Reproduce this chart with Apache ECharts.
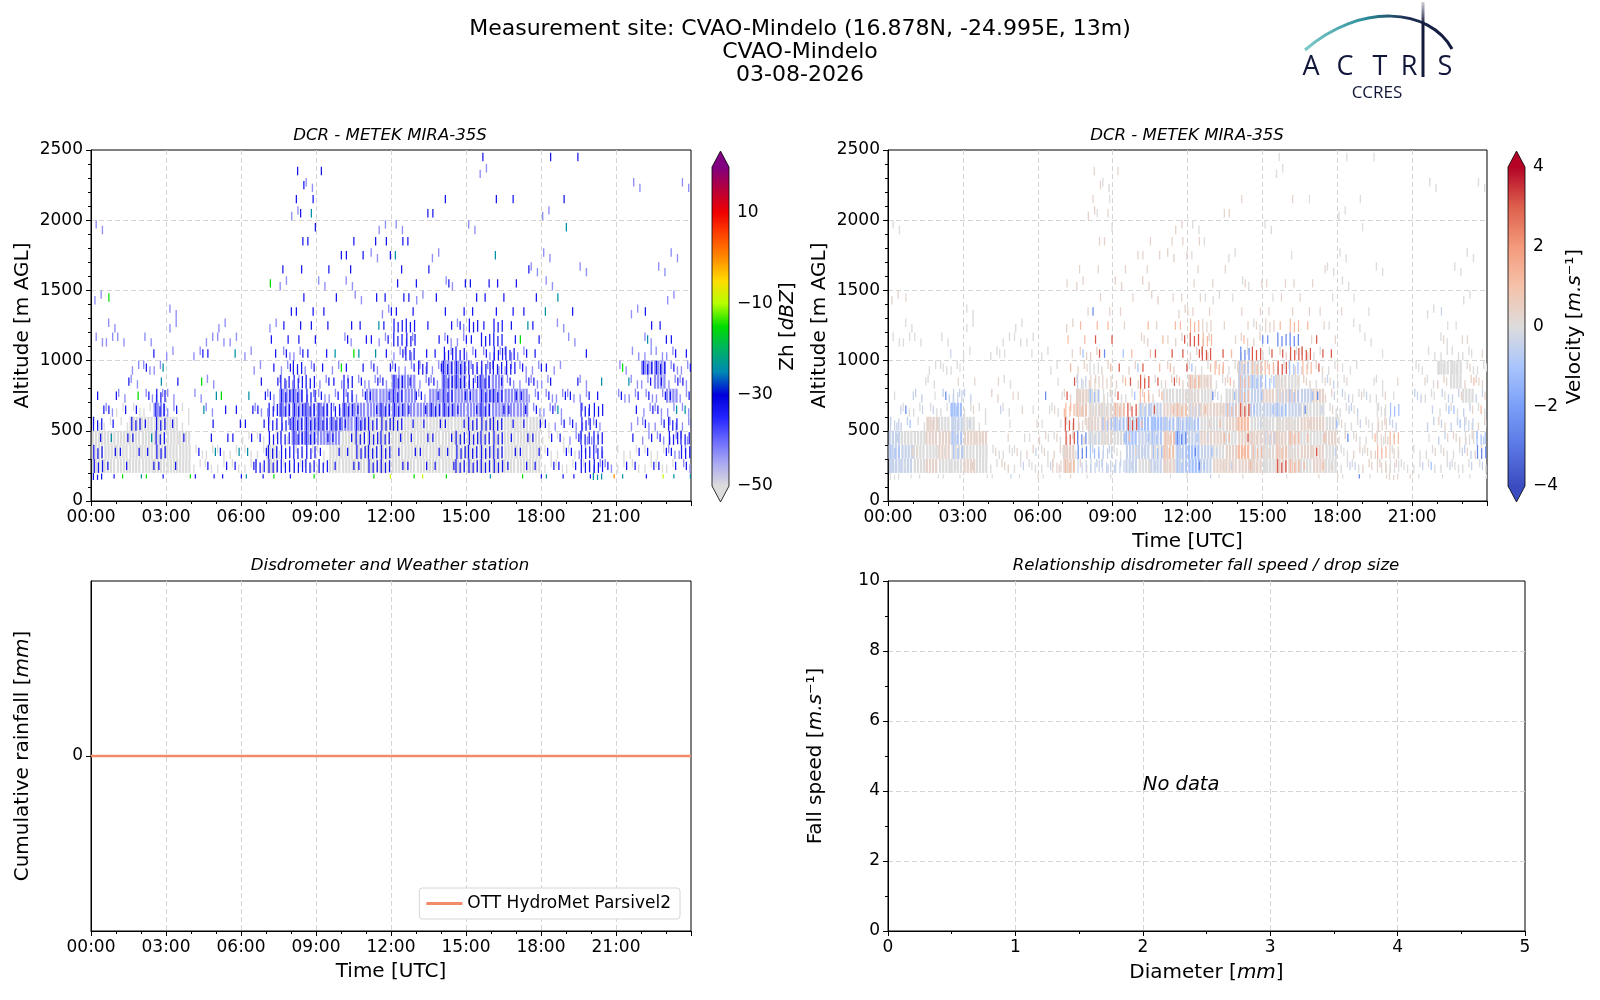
<!DOCTYPE html>
<html>
<head>
<meta charset="utf-8">
<title>CVAO-Mindelo quicklook 03-08-2026</title>
<script src="https://cdn.jsdelivr.net/npm/echarts@6/dist/echarts.min.js"></script>
<style>
  html, body { margin: 0; padding: 0; background: #fff; }
  #chart { width: 1600px; height: 1000px; }
</style>
</head>
<body>
<div id="chart"></div>
<script>
// ---- radar cells read off the quicklook ----
// one string per half-hour column, one char per altitude bin (bottom -> top)
const HOURS_PER_COL = 0.5;
const ALT_EDGES = [150, 200, 300, 400, 500, 600, 700, 800, 900, 1000, 1100, 1200,
  1300, 1400, 1500, 1600, 1700, 1800, 1900, 2000, 2100, 2200, 2300, 2400, 2500];

// weak echoes (g = grey, l = lavender), upper case = dense
const ZH_WEAK = [
  ".GGGg.....l..l....l", ".GGGgl....ll", ".GGGggl...l", ".GGGGg.ll", ".GGGGgl.l.l",
  ".GGGGLl.l", ".GGGGll..l.ll", ".GGGgg", ".gg...l..l", ".gg..l.l..l",
  ".gg.......ll", ".gg.......l", ".ggg.....l", ".ggg.l..l", ".GGggll....l",
  ".ggglLLlll....l", ".ggLLLLl.l.........l", ".ggLLLl.l............l", ".ggLLLll......l", ".GGLLll.l",
  ".GGGLLll..l...l", ".GGGLLll.....l", ".GGGGLLll.......l", ".GGGGLLl..l.l.....l", ".GGGGLLLll........l",
  ".GGGGLLLlll", ".GGGGLlll....l", ".GGGGLLll.......l", ".GGGGLLLLll...l", ".GGGGLLLL.ll",
  ".GGGGLLlll........l", ".GGGGLLLll............l", ".GGGGLLLll", ".GGGGLLlll", ".GGGGLLlll",
  ".GGGGllll......l", ".gggglll......l.l..l", ".ggglll.l..l", ".ggll.l...l", ".gllllll.......l",
  ".llll", ".l", ".gg...l.l", ".gg.l.ll.l..l........l", ".gglllllLll",
  ".ggllllLLl.....l", ".gllllLlll...l..l", ".llllllll............l"
];
// stronger echoes (b blue, c teal, v green, y yellow, o orange), upper case = dense
const ZH_STRONG = [
  "BBBbBbb", "bbbcbbb......v", "vbbb.b.b", "c.bbBbv", "vbbcb.b.bb",
  "bbBBBBBcc", ".b..bb.b", "v..b", "b.b..c.v.b", "bbcbb.c..b",
  "bbbb.bv", "bbcbbb...c", "cbcbbbc", "bBbbbbbb", "vBBBBBbbbbb...v",
  "bBBBBBBBbbbbb..b", ".BBBBBBBBbbbbb.b.b.bbbb", "vBBBBBBBbbbbb....bbcb", ".BbbBBbbbb.bb..b......b", ".bbbBBbbvc...b..b",
  ".bbbbBBBbvbb...bbb", ".bBBBbbbbcbb....b", "vBBBBbbbbcbc.b...b", "yBBBBBbbbbbbbb..bb", ".bbbBBBBbbBBbbbbcb",
  "vbbbbbbbbBBBbbb..b", "ybbbbbbbBb.b...b...b", ".bbbbBbbbbb..b.....b", "vbbbbBBBBBbbb.b.....b", ".BBBbbbBBBbbb.b",
  ".BBBBbbBBbbBbbb", "cBBBBBBBBbBb.bb........b", ".BBBBbBbBBBBbbb.c...b", ".bbbbbbbBBbbb.b.....b", "vbbbbbbbbbvcb..b",
  "bbbbbbbbbbbb.b", "cbbbbbbbb...c..........b", "bbbbbcb......c....c.b", "bbbbb.bb....b..........b", "bBBBBBb..b",
  "CBBBbBbc", "ob", "cb....bcv", ".bbb.bb", "bbbbbbbbB.cbb",
  "ybbbbbbbB.bb", "cbbBBcbbbbb", "cbBBbcbbbb"
];
// Doppler velocity of the same cells (n 0, p/s/r positive, k/K/u negative)
const VEL_WEAK = [
  ".kkkk.....n..p....n", ".kknkn....nn", ".nnnnnk...n", ".pnppn.nn", ".nppnnk.n.n",
  ".nnkkKk.n", ".pnpnnk..n.nn", ".nnpnn", ".nn...p..n", ".pn..n.n..n",
  ".nn.......nn", ".np.......n", ".nnp.....n", ".ppn.n..n", ".ppppsp....p",
  ".pnppppnpp....p", ".kknpnnp.p.........p", ".kknpnp.p............n", ".knnkpnp......p", ".kkKkpn.p",
  ".nkkKnpp..p...p", ".knkKkpn.....p", ".pppkpnpp.......p", ".kkKkpnp..p.p.....p", ".KKkkpnpnp........n",
  ".kkpnpnpnpp", ".pnpnpnnp....n", ".ppnpknpn.......n", ".pspspkkpnp...n", ".pnpnkkkn.pn",
  ".nnpnkpnpn........n", ".pppnkpnnp............n", ".pnpnkpnpn", ".npnpnkpnp", ".ppnpnpnpn",
  ".nnpnnpkn......n", ".nnpnnkn......n.n..n", ".npnnkn.n..n", ".ppnn.n...n", ".ppnpnnn.......n",
  ".pnpk", ".n", ".nn...k.n", ".nn.k.nn.n..n........n", ".nnkpnkpnnn",
  ".nnpknknnn.....n", ".nkpnknpnn...n..n", ".npkpnkpn............n"
];
const VEL_STRONG = [
  "nkKkkkn", "nnpnKuk......p", "nnpn.k.n", "n.nppkn", "nnnpn.u.nk",
  "nnKKkKkpn", ".p..kp.p", "n..p", "n.p..k.p.n", "kpnpn.p..n",
  "nkpn.pp", "pnknpn...n", "nkpnnnu", "npnpnpnn", "psprrsrrsps...p",
  "nkuupspkpKssp..p", ".kKknpKpnrrsup.p.p.nppp", "nkkpKpnpsursp....pnpn", ".knKKsrsrK.pp..p......p", ".kpsrrKrKs...p..p",
  ".nkKsKsrrsps...ppp", ".kKKKrsrsrsp....p", "npssKsprsrps.p...p", "nKKuKspsrrrspp..pp", ".uuKKkpsKrrsppppnp",
  "kKKkpsupsrsppnp..n", "npksspkpsr.p...p...p", ".kpspsKspsp..n.....p", "pssrsrssKuspp.p.....p", ".pspkKKKsrupp.p",
  ".npknKpKsruppnp", "nrsppKkprrus.pp........n", ".spspkKpKrusppp.n...p", ".spspuKpsrpsp.p.....n", "psrspkuprrrpp..p",
  "ppknKpkpprpn.n", "nknupknpn...p..........n", "uknpknp......n....n.n", "nppsn.kn....n..........n", "ppsppnp..n",
  "pnpskKnp", "pn", "nk....kpn", ".Kpn.kn", "nkppkKnpn.pnk",
  "nnkpKKpnn.pn", "nkpnkpnspnp", "nkuKnsppnp"
];
const ZH_CODES = { g: -50, l: -43, b: -33, c: -24, v: -15, y: -9, o: 0 };
const VEL_CODES = { n: 0, p: 0.35, s: 1.2, r: 3.1, k: -0.45, K: -1.1, u: -2.6 };

// disdrometer: cumulative rainfall stays at zero all day
const RAIN_TIME = [0, 24];
const RAIN_CUM = [0, 0];
const NO_DATA_AT = [2, 4];

const ZH_COLORS = ['#dcdcdc', '#a9a9f2', '#6a6aff', '#2424ff', '#0000dc', '#0088b4', '#00b264',
  '#00dc00', '#b4ff00', '#ffdc00', '#ff8c00', '#ff4600', '#f00000', '#b8003a', '#800080'];
const VEL_COLORS = ['#3b4cc0', '#5a78e4', '#7b9ff9', '#a9c5fc', '#dddcdc', '#f5c2aa', '#f49a7b', '#de604d', '#b40426'];

// ---- helpers ----
function buildCells(echoCols, valueCols, codes) {
  const out = [];
  echoCols.forEach((col, c) => {
    for (let r = 0; r < col.length; r++) {
      const ch = col[r];
      if (ch === '.') continue;
      const code = valueCols ? (valueCols[c][r] || '.') : ch.toLowerCase();
      if (!(code in codes)) continue;
      const dense = ch !== ch.toLowerCase() ? 1 : 0;
      out.push([c * HOURS_PER_COL, ALT_EDGES[r], ALT_EDGES[r + 1], codes[code], dense, c, r]);
    }
  });
  return out;
}

// each cell is drawn as a few thin vertical streaks, like the radar gates
// [x offset, y offset, height] as fractions of the cell, plus streak width
const STRIPES = {
  weak: {
    dense: [[0, 0, 1], [0.25, 0, 1], [0.5, 0, 1], [0.75, 0, 1]], wDense: 0.18,
    sparse: [[0.08, 0, 0.6], [0.58, 0.4, 0.6]], wSparse: 0.11
  },
  strong: {
    dense: [[0.14, 0, 1], [0.47, 0.25, 0.75], [0.8, 0.1, 0.85]], wDense: 0.1,
    sparse: [[0.3, 0.2, 0.6]], wSparse: 0.1
  }
};
const SHIFT = [0, 0.42, 0.18, 0.6, 0.08, 0.5, 0.28, 0.68];

function stripeRenderer(kind) {
  const s = STRIPES[kind];
  return function (params, api) {
    const t0 = api.value(0);
    const tl = api.coord([t0, api.value(2)]);
    const br = api.coord([t0 + HOURS_PER_COL, api.value(1)]);
    const w = br[0] - tl[0];
    const h = br[1] - tl[1];
    const dense = api.value(4) === 1;
    const streaks = dense ? s.dense : s.sparse;
    const sw = Math.max(1.2, w * (dense ? s.wDense : s.wSparse));
    const k = (api.value(5) * 5 + api.value(6) * 3) % SHIFT.length;
    const j = dense ? SHIFT[k] * 0.12 : SHIFT[k];
    const fill = api.visual('color');
    return {
      type: 'group',
      children: streaks.map(([ox, oy, fh]) => ({
        type: 'rect',
        shape: { x: tl[0] + ((ox + j) % 1) * w, y: tl[1] + oy * h, width: sw, height: fh * h },
        style: { fill }
      }))
    };
  };
}

function colorbarRenderer(colors, min, max) {
  return function (params, api) {
    const top = api.coord([0, max]);
    const bot = api.coord([1, min]);
    const x0 = top[0], x1 = bot[0], yT = top[1], yB = bot[1];
    const mid = (x0 + x1) / 2;
    const tri = (yB - yT) * 0.05;
    const stops = colors.map((c, i) => ({ offset: i / (colors.length - 1), color: c }));
    return {
      type: 'group',
      children: [
        { type: 'rect', shape: { x: x0, y: yT, width: x1 - x0, height: yB - yT },
          style: { fill: new echarts.graphic.LinearGradient(0, 1, 0, 0, stops) } },
        { type: 'polygon', shape: { points: [[x0, yT], [x1, yT], [mid, yT - tri]] },
          style: { fill: colors[colors.length - 1] } },
        { type: 'polygon', shape: { points: [[x0, yB], [x1, yB], [mid, yB + tri]] },
          style: { fill: colors[0] } },
        { type: 'polygon', shape: { points: [[x0, yT], [mid, yT - tri], [x1, yT], [x1, yB], [mid, yB + tri], [x0, yB]] },
          style: { fill: 'none', stroke: '#000', lineWidth: 0.8 } }
      ]
    };
  };
}

const FONT = 'DejaVu Sans';
const tickText = { color: '#000', fontFamily: FONT, fontSize: 17 };
const nameText = {
  color: '#000', fontFamily: FONT, fontSize: 20,
  rich: { i: { fontFamily: FONT, fontSize: 20, fontStyle: 'italic', color: '#000' } }
};
const gridLine = { show: true, showMinLine: false, showMaxLine: false,
  lineStyle: { color: '#d4d4d4', type: [5, 3], width: 1 } };
const blackLine = { color: '#000', width: 1 };
const minusFmt = v => (v < 0 ? '\u2212' + Math.abs(v) : String(v));

function timeAxis(gridIndex, name) {
  return {
    type: 'value', gridIndex, min: 0, max: 24, interval: 3,
    name: name || '', nameLocation: 'middle', nameGap: 31, nameTextStyle: nameText,
    axisLine: { show: true, onZero: false, lineStyle: blackLine },
    axisTick: { show: true, length: 5, lineStyle: blackLine },
    minorTick: { show: true, splitNumber: 3, length: 3, lineStyle: blackLine },
    axisLabel: { ...tickText, margin: 8, showMaxLabel: false,
      formatter: v => String(v).padStart(2, '0') + ':00' },
    splitLine: gridLine
  };
}

function valueAxis(gridIndex, min, max, interval, minorSplit, name, gap) {
  return {
    type: 'value', gridIndex, min, max, interval,
    name, nameLocation: 'middle', nameGap: gap, nameRotate: 90, nameTextStyle: nameText,
    axisLine: { show: true, onZero: false, lineStyle: blackLine },
    axisTick: { show: true, length: 5, lineStyle: blackLine },
    minorTick: { show: minorSplit > 0, splitNumber: minorSplit, length: 3, lineStyle: blackLine },
    axisLabel: { ...tickText, margin: 8, formatter: minusFmt },
    splitLine: gridLine
  };
}

function cbarAxis(gridIndex, min, max, interval, name, gap) {
  return {
    type: 'value', gridIndex, position: 'right', min, max, interval,
    name, nameLocation: 'middle', nameGap: gap, nameRotate: 90, nameTextStyle: nameText,
    axisLine: { show: false },
    axisTick: { show: true, length: 5, lineStyle: blackLine },
    axisLabel: { ...tickText, margin: 8, formatter: minusFmt },
    splitLine: { show: false }
  };
}

const plotGrid = { show: true, borderColor: '#000', borderWidth: 1, containLabel: false, outerBoundsMode: 'none' };

const rainAxisY = valueAxis(2, -0.055, 0.055, 0.055, 0, 'Cumulative rainfall [{i|mm}]', 58);
rainAxisY.axisLabel = { ...tickText, margin: 8, customValues: [0], formatter: v => (Math.abs(v) < 1e-9 ? '0' : '') };
rainAxisY.axisTick = { show: true, length: 5, lineStyle: blackLine, customValues: [0] };

const zhBarAxis = cbarAxis(4, -50, 20, 20, 'Zh [{i|dBZ}]', 49);
zhBarAxis.axisLabel.showMaxLabel = false;

const titleFont = 'italic 16.6px "DejaVu Sans"';
const logoFont = '500 27px "Open Sans"';

const option = {
  backgroundColor: '#fff',
  animation: false,
  textStyle: { fontFamily: FONT },
  grid: [
    { ...plotGrid, left: 91, top: 150, width: 600, height: 351 },
    { ...plotGrid, left: 888, top: 150, width: 599, height: 351 },
    { ...plotGrid, left: 91, top: 581, width: 600, height: 350 },
    { ...plotGrid, left: 888, top: 581, width: 637, height: 350 },
    { show: false, left: 712, top: 167, width: 17, height: 319, containLabel: false, outerBoundsMode: 'none' },
    { show: false, left: 1508, top: 167, width: 17, height: 319, containLabel: false, outerBoundsMode: 'none' }
  ],
  xAxis: [
    timeAxis(0),
    timeAxis(1, 'Time [UTC]'),
    timeAxis(2, 'Time [UTC]'),
    {
      ...valueAxis(3, 0, 5, 1, 2, 'Diameter [{i|mm}]', 32),
      nameRotate: 0,
      axisLabel: { ...tickText, margin: 8 }
    },
    { type: 'value', gridIndex: 4, min: 0, max: 1, show: false },
    { type: 'value', gridIndex: 5, min: 0, max: 1, show: false }
  ],
  yAxis: [
    valueAxis(0, 0, 2500, 500, 5, 'Altitude [m AGL]', 58),
    valueAxis(1, 0, 2500, 500, 5, 'Altitude [m AGL]', 58),
    rainAxisY,
    valueAxis(3, 0, 10, 2, 2, 'Fall speed [{i|m.s}\u207b\u00b9]', 62),
    zhBarAxis,
    cbarAxis(5, -4, 4, 2, 'Velocity [{i|m.s}\u207b\u00b9]', 40)
  ],
  visualMap: [
    { type: 'continuous', show: false, seriesIndex: [0, 1], dimension: 3, min: -50, max: 20, inRange: { color: ZH_COLORS } },
    { type: 'continuous', show: false, seriesIndex: [2, 3], dimension: 3, min: -4, max: 4, inRange: { color: VEL_COLORS } }
  ],
  legend: {
    data: ['OTT HydroMet Parsivel2'],
    right: 920, bottom: 81,
    icon: 'rect', itemWidth: 36, itemHeight: 3,
    padding: [7, 9, 7, 7],
    backgroundColor: '#fff', borderColor: '#d6d6d6', borderWidth: 1, borderRadius: 3,
    textStyle: { color: '#000', fontFamily: FONT, fontSize: 17 }
  },
  series: [
    { type: 'custom', name: 'Zh weak', xAxisIndex: 0, yAxisIndex: 0, clip: true,
      data: buildCells(ZH_WEAK, null, ZH_CODES), renderItem: stripeRenderer('weak') },
    { type: 'custom', name: 'Zh strong', xAxisIndex: 0, yAxisIndex: 0, clip: true,
      data: buildCells(ZH_STRONG, null, ZH_CODES), renderItem: stripeRenderer('strong') },
    { type: 'custom', name: 'Vel weak', xAxisIndex: 1, yAxisIndex: 1, clip: true,
      data: buildCells(ZH_WEAK, VEL_WEAK, VEL_CODES), renderItem: stripeRenderer('weak') },
    { type: 'custom', name: 'Vel strong', xAxisIndex: 1, yAxisIndex: 1, clip: true,
      data: buildCells(ZH_STRONG, VEL_STRONG, VEL_CODES), renderItem: stripeRenderer('strong') },
    { type: 'line', name: 'OTT HydroMet Parsivel2', xAxisIndex: 2, yAxisIndex: 2,
      data: RAIN_TIME.map((t, i) => [t, RAIN_CUM[i]]), showSymbol: false,
      lineStyle: { color: '#f28b6a', width: 2.5 }, itemStyle: { color: '#f28b6a' } },
    { type: 'custom', name: 'no data', xAxisIndex: 3, yAxisIndex: 3, data: [NO_DATA_AT],
      renderItem: (params, api) => {
        const pt = api.coord([api.value(0), api.value(1)]);
        return { type: 'text', x: pt[0], y: pt[1] + 4,
          style: { text: 'No data', font: 'italic 19.5px "DejaVu Sans"', fill: '#000', align: 'left', verticalAlign: 'bottom' } };
      } },
    { type: 'custom', name: 'Zh bar', xAxisIndex: 4, yAxisIndex: 4, data: [[0.5, 0]],
      renderItem: colorbarRenderer(ZH_COLORS, -50, 20) },
    { type: 'custom', name: 'Vel bar', xAxisIndex: 5, yAxisIndex: 5, data: [[0.5, 0]],
      renderItem: colorbarRenderer(VEL_COLORS, -4, 4) }
  ],
  graphic: [
    { type: 'text', x: 800, y: 29, style: { text: 'Measurement site: CVAO-Mindelo (16.878N, -24.995E, 13m)', font: '22px "DejaVu Sans"', fill: '#000', align: 'center', verticalAlign: 'middle' } },
    { type: 'text', x: 800, y: 52, style: { text: 'CVAO-Mindelo', font: '22px "DejaVu Sans"', fill: '#000', align: 'center', verticalAlign: 'middle' } },
    { type: 'text', x: 800, y: 75, style: { text: '03-08-2026', font: '22px "DejaVu Sans"', fill: '#000', align: 'center', verticalAlign: 'middle' } },
    { type: 'text', x: 390, y: 136, style: { text: 'DCR - METEK MIRA-35S', font: titleFont, fill: '#000', align: 'center', verticalAlign: 'middle' } },
    { type: 'text', x: 1187, y: 136, style: { text: 'DCR - METEK MIRA-35S', font: titleFont, fill: '#000', align: 'center', verticalAlign: 'middle' } },
    { type: 'text', x: 390, y: 566, style: { text: 'Disdrometer and Weather station', font: titleFont, fill: '#000', align: 'center', verticalAlign: 'middle' } },
    { type: 'text', x: 1206, y: 566, style: { text: 'Relationship disdrometer fall speed / drop size', font: titleFont, fill: '#000', align: 'center', verticalAlign: 'middle' } },
    // ACTRIS / CCRES logo
    { type: 'bezierCurve', shape: { x1: 1305, y1: 50, x2: 1452, y2: 49, cpx1: 1360, cpy1: 2, cpx2: 1430, cpy2: 8 },
      style: { fill: 'none', lineWidth: 3,
        stroke: new echarts.graphic.LinearGradient(1305, 0, 1452, 0, [
          { offset: 0, color: '#7fcbcb' }, { offset: 0.4, color: '#2f8f9c' },
          { offset: 0.7, color: '#1c2c52' }, { offset: 1, color: '#141a3c' }], true) } },
    { type: 'line', shape: { x1: 1423, y1: 2, x2: 1423, y2: 77 },
      style: { lineWidth: 3,
        stroke: new echarts.graphic.LinearGradient(0, 2, 0, 77, [
          { offset: 0, color: 'rgba(20,26,60,0.2)' }, { offset: 0.3, color: '#141a3c' }, { offset: 1, color: '#141a3c' }], true) } },
    { type: 'text', x: 1311, y: 67, style: { text: 'A', font: logoFont, fill: '#12163a', align: 'center', verticalAlign: 'middle' } },
    { type: 'text', x: 1345, y: 67, style: { text: 'C', font: logoFont, fill: '#12163a', align: 'center', verticalAlign: 'middle' } },
    { type: 'text', x: 1380, y: 67, style: { text: 'T', font: logoFont, fill: '#12163a', align: 'center', verticalAlign: 'middle' } },
    { type: 'text', x: 1409, y: 67, style: { text: 'R', font: logoFont, fill: '#12163a', align: 'center', verticalAlign: 'middle' } },
    { type: 'text', x: 1445, y: 67, style: { text: 'S', font: logoFont, fill: '#12163a', align: 'center', verticalAlign: 'middle' } },
    { type: 'text', x: 1377, y: 93, style: { text: 'CCRES', font: '17px "Open Sans"', fill: '#12163a', align: 'center', verticalAlign: 'middle' } }
  ]
};

const chart = echarts.init(document.getElementById('chart'), null, { renderer: 'canvas' });
chart.setOption(option);
</script>
</body>
</html>
